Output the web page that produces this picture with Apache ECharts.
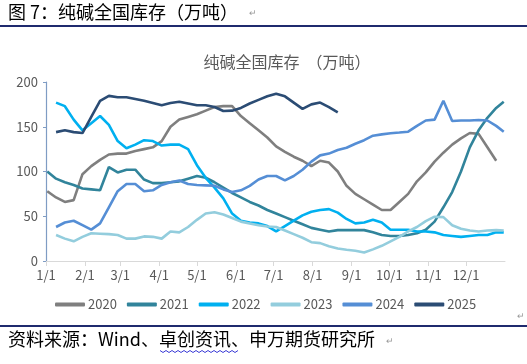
<!DOCTYPE html>
<html>
<head>
<meta charset="utf-8">
<script src="https://cdn.jsdelivr.net/npm/echarts@6/dist/echarts.min.js"></script>
<style>
html,body{margin:0;padding:0;background:#fff;}
#c{width:527px;height:364px;}
</style>
</head>
<body>
<div id="c"></div>
<script>
// Month tick positions (day of year) and labels
var monthDays = [0, 31, 59, 90, 120, 151, 181, 212, 243, 273, 304, 334];
var monthLabels = ['1/1','2/1','3/1','4/1','5/1','6/1','7/1','8/1','9/1','10/1','11/1','12/1'];
var yTicks = [0, 50, 100, 150, 200];

// Weekly sample days
var days2020 = [1,8,15,22,29,36,43,50,57,64,71,78,85,92,99,106,113,120,127,134,141,148,155,162,169,176,183,190,197,204,211,218,225,232,239,246,253,260,267,274,281,288,295,302,309,316,323,330,337,344,351,358];
var vals2020 = [78,71,66,68,97,106,113,119,120,120,123,125,127,134,150,158,161,164,168,172,173,173,162,154,146,138,128,122,116.5,112,106,112,110,100,84,75,69,63,57,57,66,75,89,99,111,121,130,137,143,142,127,112];

var days2021 = [1,8,15,22,29,36,43,50,57,64,71,78,85,92,99,106,113,120,127,134,141,148,155,162,169,176,183,190,197,204,211,218,225,232,239,246,253,260,267,274,281,288,295,302,309,316,323,330,337,344,351,358,364];
var vals2021 = [100,92,88,85,81,80,79,105,99,102,102,91,87,87,88,89,92,95,93,88,82,76,71,66,62,57,53,49,45,41,37,35,33,34.5,34.5,34.5,34.5,32,29,28,28,29,31,35,44,60,77,100,127,146,160,171,178];

var days2022 = [8,15,22,29,36,43,50,57,64,71,78,85,92,99,106,113,120,127,134,141,148,155,162,169,176,183,190,197,204,211,218,225,232,239,246,253,260,267,274,281,288,295,302,309,316,323,330,337,344,351,358,364];
var vals2022 = [177,173,158,146,154,162,152,134,126,130,135,134,129,130,130,125,107,93,82,70,53,45,43,42,39,33,39,45,51,55,57,58,54,47,42,43,46,43,35,35,35,33,33,32,29,28,27,28,29,29,32,32];

var days2023 = [8,15,22,29,36,43,50,57,64,71,78,85,92,99,106,113,120,127,134,141,148,155,162,169,176,183,190,197,204,211,218,225,232,239,246,253,260,267,274,281,288,295,302,309,316,323,330,337,344,351,358,364];
var vals2023 = [29,25,22,27,31,30.5,30,29,25,25,27.5,27,25,33,32,38,46,53,54.4,52,48,44,42,40,38.5,38,34,30,26,21,20,16.5,14,12.5,11.5,9.5,13,17,22,27,33,38,44.5,49.5,49,40,36,34,33,34,34.5,34];

var days2024 = [8,15,22,29,36,43,50,57,64,71,78,85,92,99,106,113,120,127,134,141,148,155,162,169,176,183,190,197,204,211,218,225,232,239,246,253,260,267,274,281,288,295,302,309,316,323,330,337,344,351,358,364];
var vals2024 = [38,43,45,40,35,42,60,78,86,86,78,79,85,88,90,86,85,84.5,84,80,77,79,84,91,95,95,90,95,102,111,118,120,124,126.5,131,135,140,141.5,142.7,143.5,144.5,151,157,158,179,156.5,157,157,157.5,157,151,144.5];

var days2025 = [8,15,22,29,36,43,50,57,64,71,78,85,92,99,106,113,120,127,134,141,148,155,162,169,176,183,190,197,204,211,218,225,232];
var vals2025 = [144,146,144,143,161,179,184.5,183,183,181,179,176.5,174,176.5,178,176,174,174,172,167.6,168,171,176,180,184,187,184,177,170,175,177,172,166];

var seriesNames = ['2020','2021','2022','2023','2024','2025'];
var seriesDays = [days2020, days2021, days2022, days2023, days2024, days2025];
var seriesVals = [vals2020, vals2021, vals2022, vals2023, vals2024, vals2025];
var colors = ['#7f7f7f','#31849b','#00b0f0','#93cddd','#558ed5','#2b4c74'];

function pairs(d, v){ var out=[]; for(var i=0;i<d.length;i++){ out.push([d[i], v[i]]); } return out; }

var series = seriesNames.map(function(n, i){
  return {
    name: n, type: 'line', showSymbol: false, symbol: 'none',
    data: pairs(seriesDays[i], seriesVals[i]),
    lineStyle: { width: 2.6, color: colors[i] },
    itemStyle: { color: colors[i] },
    z: 2 + i
  };
});

// wavy underline points (decoration)
var wavy = [];
for (var k = 0; k <= 26; k++) { wavy.push([160 + k * 3, 351 + (k % 2 ? 1.5 : -0.5)]); }

var chart = echarts.init(document.getElementById('c'));
chart.setOption({
  animation: false,
  backgroundColor: '#ffffff',
  color: colors,
  textStyle: { fontFamily: '"Noto Sans CJK SC", "Noto Sans", sans-serif' },
  title: {
    text: '纯碱全国库存  （万吨）',
    left: 282, top: 49, textAlign: 'center',
    textStyle: { fontSize: 16, fontWeight: 'normal', color: '#595959', fontFamily: '"Noto Sans CJK SC", sans-serif' }
  },
  legend: {
    data: seriesNames,
    left: 50, top: 293,
    icon: 'roundRect',
    itemWidth: 30, itemHeight: 4, itemGap: 10,
    textStyle: { fontSize: 13, color: '#595959', padding: [0, 0, 0, -2] }
  },
  grid: { left: 46, right: 22, top: 82, bottom: 103, containLabel: false },
  xAxis: {
    type: 'value', min: 0, max: 365,
    axisLine: { show: true, lineStyle: { color: '#d9d9d9', width: 1 } },
    axisTick: { show: true, length: 5, lineStyle: { color: '#d9d9d9' }, customValues: monthDays },
    axisLabel: {
      customValues: monthDays, fontSize: 13, color: '#595959', margin: 8,
      formatter: function(v){ var i = monthDays.indexOf(v); return i >= 0 ? monthLabels[i] : ''; }
    },
    splitLine: { show: false }
  },
  yAxis: {
    type: 'value', min: 0, max: 200, interval: 50,
    axisLine: { show: true, lineStyle: { color: '#7f9cc4', width: 1.2 } },
    axisTick: { show: true, inside: false, length: 3, lineStyle: { color: '#7f9cc4' } },
    axisLabel: { fontSize: 13, color: '#595959', margin: 8,
      formatter: function(v){ return yTicks.indexOf(v) >= 0 ? String(v) : ''; } },
    splitLine: { show: false }
  },
  graphic: [
    { type: 'text', left: 8, top: 3, style: { text: '图 7：纯碱全国库存（万吨）', fontSize: 18, fill: '#000', fontFamily: '"Noto Sans CJK SC", sans-serif' } },
    { type: 'text', left: 249, top: 9, style: { text: '↵', fontSize: 9, fill: '#999' } },
    { type: 'rect', shape: { x: 0, y: 25, width: 527, height: 2 }, style: { fill: '#1f2a6e' } },
    { type: 'text', left: 517, top: 312, style: { text: '↵', fontSize: 9, fill: '#999' } },
    { type: 'rect', shape: { x: 0, y: 325, width: 527, height: 2 }, style: { fill: '#1f2a6e' } },
    { type: 'text', left: 8, top: 330, style: { text: '资料来源：Wind、卓创资讯、申万期货研究所', fontSize: 18, fill: '#000', fontFamily: '"Noto Sans CJK SC", sans-serif' } },
    { type: 'text', left: 386, top: 337, style: { text: '↵', fontSize: 9, fill: '#999' } },
    { type: 'polyline', shape: { points: wavy }, style: { stroke: '#3b3bd6', lineWidth: 1, fill: null } }
  ],
  series: series
});
</script>
</body>
</html>
